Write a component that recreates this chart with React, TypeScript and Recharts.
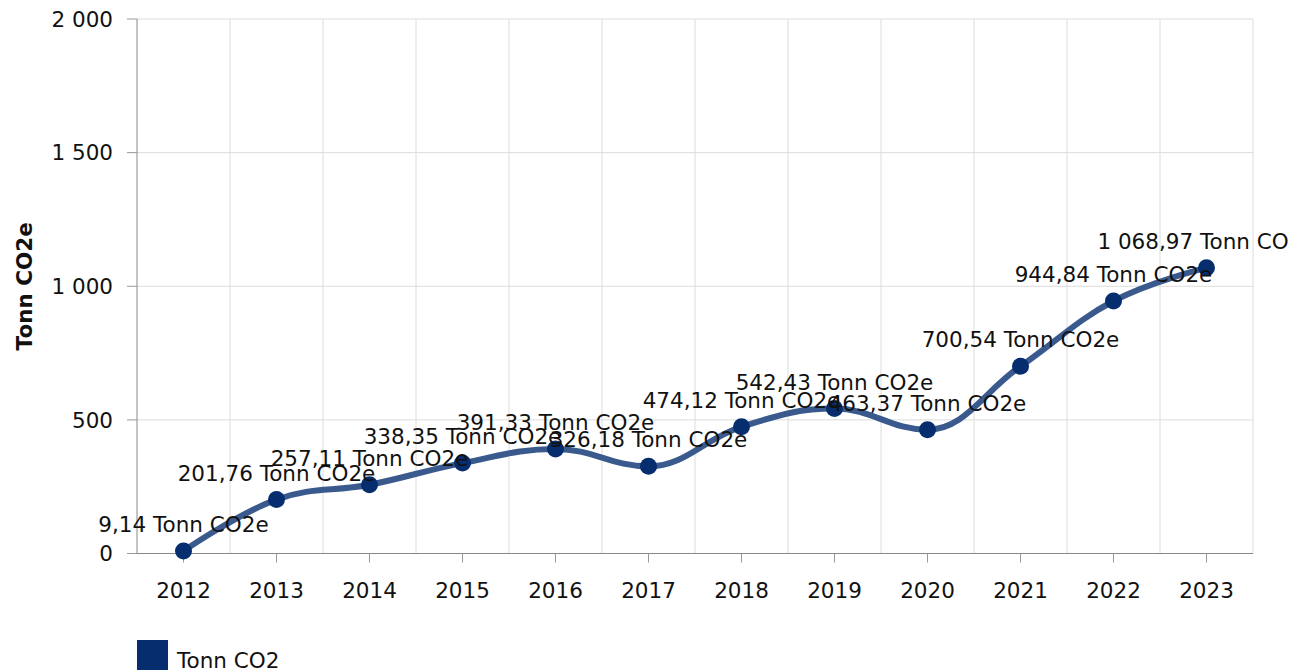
import { LineChart, Line, XAxis, YAxis, CartesianGrid, LabelList, Legend } from "recharts";

const years = ["2012", "2013", "2014", "2015", "2016", "2017", "2018", "2019", "2020", "2021", "2022", "2023"];
const emissions = [9.14, 201.76, 257.11, 338.35, 391.33, 326.18, 474.12, 542.43, 463.37, 700.54, 944.84, 1068.97];
const yTicks = [0, 500, 1000, 1500, 2000];
const seriesName = "Tonn CO2";
const unit = "Tonn CO2e";

const data = years.map((year, i) => ({ year, value: emissions[i] }));

const FONT = "'DejaVu Sans', Verdana, sans-serif";
const LINE = "#3a5a8e";
const DOT = "#062d6d";

// norwegian style number: "1 068,97"
function fmt(v: number, decimals = 0) {
  const [int, dec] = v.toFixed(decimals).split(".");
  const grouped = int.replace(/\B(?=(\d{3})+(?!\d))/g, " ");
  return dec ? `${grouped},${dec}` : grouped;
}

// highcharts-like spline (smoothing 1.5)
function splineCurve(context: any) {
  let pts: number[][] = [];
  const ctrl = (i: number) => {
    const [x, y] = pts[i];
    if (i === 0 || i === pts.length - 1) return { l: [x, y], r: [x, y] };
    const [lx, ly] = pts[i - 1];
    const [nx, ny] = pts[i + 1];
    const s = 1.5;
    const d = 2.5;
    const lcx = (s * x + lx) / d;
    let lcy = (s * y + ly) / d;
    const rcx = (s * x + nx) / d;
    let rcy = (s * y + ny) / d;
    if (rcx !== lcx) {
      const corr = ((rcy - lcy) * (rcx - x)) / (rcx - lcx) + y - rcy;
      lcy += corr;
      rcy += corr;
    }
    if (lcy > ly && lcy > y) {
      lcy = Math.max(ly, y);
      rcy = 2 * y - lcy;
    } else if (lcy < ly && lcy < y) {
      lcy = Math.min(ly, y);
      rcy = 2 * y - lcy;
    }
    if (rcy > ny && rcy > y) {
      rcy = Math.max(ny, y);
      lcy = 2 * y - rcy;
    } else if (rcy < ny && rcy < y) {
      rcy = Math.min(ny, y);
      lcy = 2 * y - rcy;
    }
    return { l: [lcx, lcy], r: [rcx, rcy] };
  };
  return {
    areaStart() {},
    areaEnd() {},
    lineStart() {
      pts = [];
    },
    point(x: number, y: number) {
      pts.push([+x, +y]);
    },
    lineEnd() {
      if (!pts.length) return;
      context.moveTo(pts[0][0], pts[0][1]);
      const cs = pts.map((_, i) => ctrl(i));
      for (let i = 1; i < pts.length; i++) {
        const a = cs[i - 1].r;
        const b = cs[i].l;
        context.bezierCurveTo(a[0], a[1], b[0], b[1], pts[i][0], pts[i][1]);
      }
    },
  };
}

const renderLabel = (props: any) => {
  const { x, y, value } = props;
  return (
    <text x={x} y={y - 19} textAnchor="middle" fontSize={21.5} fill="#111" fontFamily={FONT}>
      {`${fmt(value, 2)} ${unit}`}
    </text>
  );
};

const renderYTitle = (props: any) => {
  const { viewBox } = props;
  const cx = viewBox.x + 24;
  const cy = viewBox.y + viewBox.height / 2;
  return (
    <text
      x={cx}
      y={cy}
      transform={`rotate(-90, ${cx}, ${cy})`}
      textAnchor="middle"
      dominantBaseline="central"
      fontSize={21.5}
      fontWeight="bold"
      fill="#111"
      fontFamily={FONT}
    >
      {unit}
    </text>
  );
};

const renderLegend = () => (
  <div style={{ display: "flex", alignItems: "flex-start", height: 31, fontFamily: FONT, fontSize: 21.5, color: "#111" }}>
    <span style={{ width: 31, height: 31, background: DOT, display: "inline-block", marginRight: 9 }} />
    <span style={{ lineHeight: "42px" }}>{seriesName}</span>
  </div>
);

export default function App() {
  return (
    <div style={{ position: "absolute", left: 0, top: 0, width: 1290, height: 670, overflow: "hidden", fontFamily: FONT, background: "#fff" }}>
      <LineChart width={1290} height={670} data={data} margin={{ top: 19, right: 37, bottom: 25.5, left: 0 }}>
        <CartesianGrid
          stroke="#dcdcdc"
          verticalCoordinatesGenerator={({ offset }: any) =>
            years.map((_, i) => offset.left + (offset.width * (i + 1)) / years.length)
          }
        />
        <XAxis
          dataKey="year"
          scale="band"
          interval={0}
          height={60}
          tickSize={9}
          tickMargin={20}
          axisLine={{ stroke: "#888" }}
          tickLine={{ stroke: "#999" }}
          tick={{ fontSize: 21.5, fill: "#111", fontFamily: FONT }}
        />
        <YAxis
          width={137}
          domain={[0, 2000]}
          ticks={yTicks}
          tickFormatter={(v: number) => fmt(v)}
          tickSize={10}
          tickMargin={14}
          axisLine={{ stroke: "#888" }}
          tickLine={{ stroke: "#999" }}
          tick={{ fontSize: 21.5, fill: "#111", fontFamily: FONT }}
          label={{ content: renderYTitle }}
        />
        <Legend
          verticalAlign="bottom"
          align="left"
          height={31}
          content={renderLegend}
          wrapperStyle={{ top: 640, left: 137, bottom: "auto", width: 400 }}
        />
        <Line
          dataKey="value"
          name={seriesName}
          type={splineCurve as any}
          stroke={LINE}
          strokeWidth={6}
          dot={{ r: 8.5, fill: DOT, stroke: "none", strokeWidth: 0 }}
          activeDot={false}
          isAnimationActive={false}
        >
          <LabelList dataKey="value" content={renderLabel} />
        </Line>
      </LineChart>
    </div>
  );
}
